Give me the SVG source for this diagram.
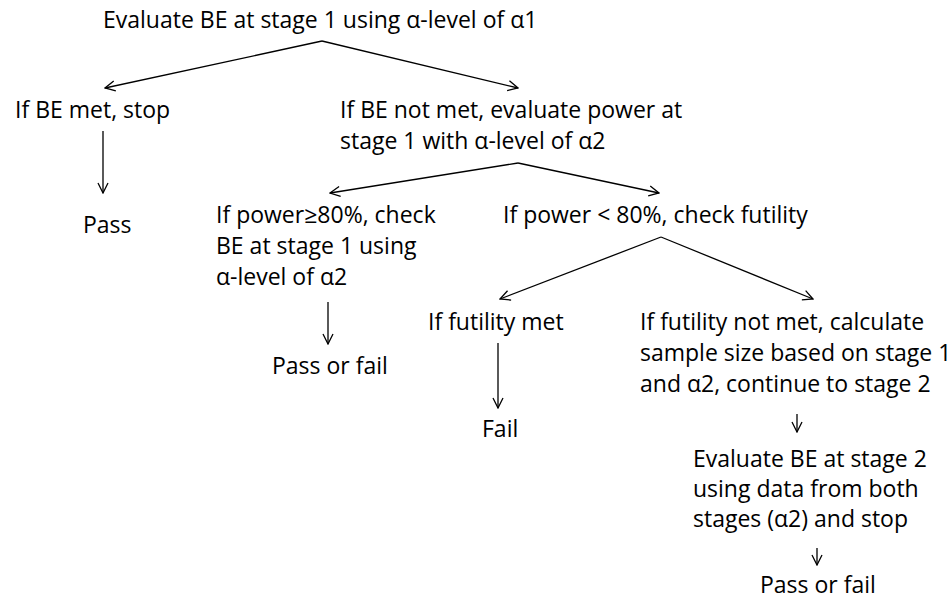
<svg xmlns="http://www.w3.org/2000/svg" width="950" height="601" viewBox="0 0 950 601">
<style>
text{font-family:"Open Sans","Liberation Sans",sans-serif;font-size:23px;fill:#000}
.c line{stroke:#000;stroke-width:1.3;fill:none}
</style>
<defs>
<marker id="ah" viewBox="0 0 12 12" refX="11" refY="6" markerWidth="12" markerHeight="12" markerUnits="userSpaceOnUse" orient="auto">
<path d="M1,1 L11,6 L1,11" fill="none" stroke="#000" stroke-width="1.3"/>
</marker>
</defs>
<rect width="950" height="601" fill="#fff"/>
<g class="c" id="connectors">
<line x1="322" y1="41" x2="105" y2="88" marker-end="url(#ah)"/>
<line x1="322" y1="41" x2="518" y2="88" marker-end="url(#ah)"/>
<line x1="103" y1="131" x2="103" y2="193" marker-end="url(#ah)"/>
<line x1="518" y1="163" x2="330" y2="193" marker-end="url(#ah)"/>
<line x1="518" y1="163" x2="659" y2="193" marker-end="url(#ah)"/>
<line x1="328" y1="302" x2="328" y2="344" marker-end="url(#ah)"/>
<line x1="661" y1="237" x2="500" y2="299" marker-end="url(#ah)"/>
<line x1="661" y1="237" x2="813" y2="299" marker-end="url(#ah)"/>
<line x1="498" y1="343" x2="498" y2="408" marker-end="url(#ah)"/>
<line x1="797" y1="414" x2="797" y2="432" marker-end="url(#ah)"/>
<line x1="817" y1="548" x2="817" y2="565" marker-end="url(#ah)"/>
</g>
<g id="n1"><text x="103" y="28">Evaluate BE at stage 1 using α-level of α1</text></g>
<g id="n2"><text x="15" y="118">If BE met, stop</text></g>
<g id="n3"><text x="340" y="118">If BE not met, evaluate power at</text><text x="340" y="149">stage 1 with α-level of α2</text></g>
<g id="n4"><text x="83" y="233">Pass</text></g>
<g id="n5"><text x="216" y="223">If power≥80%, check</text><text x="216" y="254">BE at stage 1 using</text><text x="216" y="285">α-level of α2</text></g>
<g id="n6"><text x="503" y="223">If power &lt; 80%, check futility</text></g>
<g id="n7"><text x="272" y="374">Pass or fail</text></g>
<g id="n8"><text x="428" y="330">If futility met</text></g>
<g id="n9"><text x="482" y="437">Fail</text></g>
<g id="n10"><text x="640" y="330">If futility not met, calculate</text><text x="640" y="361">sample size based on stage 1</text><text x="640" y="392">and α2, continue to stage 2</text></g>
<g id="n11"><text x="693" y="467">Evaluate BE at stage 2</text><text x="693" y="497">using data from both</text><text x="693" y="527">stages (α2) and stop</text></g>
<g id="n12"><text x="760" y="593">Pass or fail</text></g>
</svg>
